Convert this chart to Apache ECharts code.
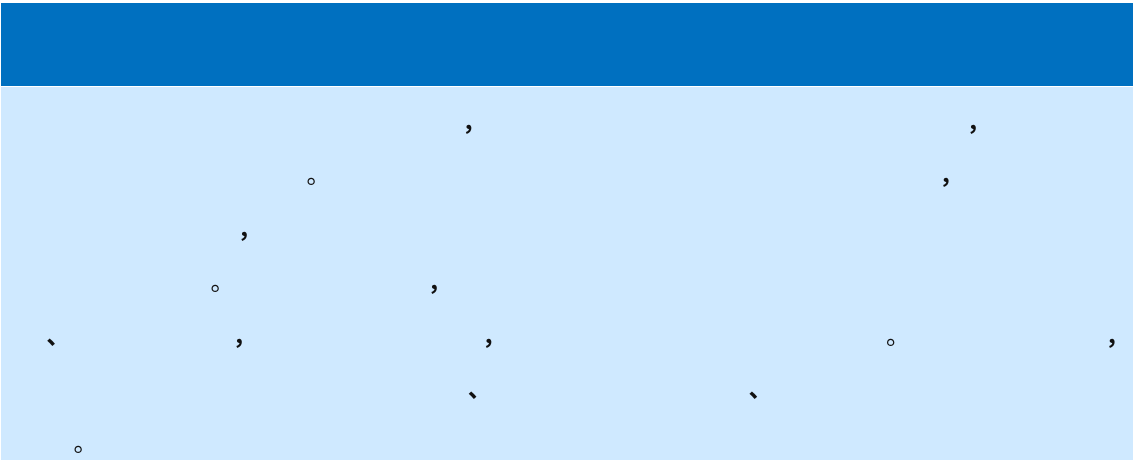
<!DOCTYPE html>
<html>
<head>
<meta charset="utf-8">
<script src="https://cdn.jsdelivr.net/npm/echarts@6/dist/echarts.min.js"></script>
<style>
html,body{margin:0;padding:0;background:#ffffff;}
#chart{width:1133px;height:462px;}
</style>
</head>
<body>
<div id="chart"></div>
<script>
// Text content: only the punctuation of the passage is visible; the other
// characters of each justified line are shown as blanks (ideographic space = full
// width, en space = half width).
const B = n => '\u3000'.repeat(n);
const H = '\u2002';
const line1 = B(17) + '，' + B(19) + '，' + B(5) + H;
const line2 = B(10) + H + '。' + B(24) + '，' + B(6) + H;
const line3 = B(8) + '，' + B(34);
const line4 = B(7) + '。' + B(8) + '，' + B(27) + H;
const line5 = B(1) + '、' + B(6) + '，' + B(9) + '，' + B(15) + '。' + B(8) + '，';
const line6 = B(17) + H + '、' + B(10) + '、' + B(13) + H;
const line7 = B(1) + H + '。';
const lines = [line1, line2, line3, line4, line5, line6, line7];

// ---- layout / style ----
const HEADER = {x: 1, y: 3, w: 1132, h: 83, color: '#0070C0'};
const BODY = {x: 1, y: 87, w: 1132, h: 373, color: '#CFE9FF'};
const TEXT_LEFT = 25, TEXT_WIDTH = 1097, FIRST_ROW = 120.5, ROW_H = 53.5, FS = 24;
const unitOf = ch => (ch === '\u2002' ? 0.5 : 1);
const cellFrac = {'，': 0.52, '、': 0.09, '。': 0.77};
const inkFrac = {'，': 0.2, '、': 0.25, '。': 0.25};
const weightOf = {'，': 'bold', '、': 'bold', '。': 'normal'};

const elements = [
  {type: 'rect', shape: {x: HEADER.x, y: HEADER.y, width: HEADER.w, height: HEADER.h}, style: {fill: HEADER.color}, silent: true},
  {type: 'rect', shape: {x: BODY.x, y: BODY.y, width: BODY.w, height: BODY.h}, style: {fill: BODY.color}, silent: true}
];

lines.forEach((ln, r) => {
  const chars = Array.from(ln);
  const isLast = r === lines.length - 1;
  const units = chars.reduce((s, ch) => s + unitOf(ch), 0);
  const cell = isLast ? FS : TEXT_WIDTH / units;   // justified lines, last line natural
  let u = 0;
  chars.forEach(ch => {
    if (ch !== '\u3000' && ch !== '\u2002') {
      const cx = TEXT_LEFT + (u + cellFrac[ch]) * cell;
      elements.push({
        type: 'text',
        x: cx - inkFrac[ch] * FS,
        y: FIRST_ROW + r * ROW_H,
        silent: true,
        style: {
          text: ch,
          fill: '#111111',
          font: weightOf[ch] + ' ' + FS + 'px "Noto Sans CJK SC"',
          align: 'left', textAlign: 'left',
          verticalAlign: 'middle', textVerticalAlign: 'middle'
        }
      });
    }
    u += unitOf(ch);
  });
});

const chart = echarts.init(document.getElementById('chart'), null, {renderer: 'canvas'});
chart.setOption({
  backgroundColor: '#ffffff',
  animation: false,
  graphic: {elements: elements}
});
</script>
</body>
</html>
